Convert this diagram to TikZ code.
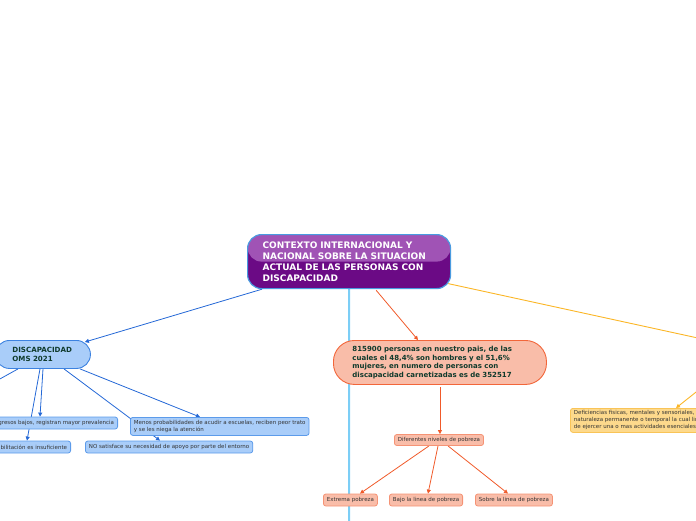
\documentclass[tikz,border=0pt]{standalone}
\usepackage{fontspec}
\setmainfont{DejaVu Sans}
\usetikzlibrary{arrows.meta,backgrounds,calc}
\definecolor{purpD}{HTML}{6B0A85}
\definecolor{purpL}{HTML}{A053B5}
\definecolor{cborder}{HTML}{4A9BE0}
\definecolor{blueF}{HTML}{A9CDF9}
\definecolor{blueB}{HTML}{3C82E0}
\definecolor{blueB2}{HTML}{5C9BEA}
\definecolor{blueL}{HTML}{2468D6}
\definecolor{salF}{HTML}{F9BDA9}
\definecolor{salB}{HTML}{F2663A}
\definecolor{salL}{HTML}{F05A2A}
\definecolor{salB2}{HTML}{F59375}
\definecolor{yelF}{HTML}{FDD98C}
\definecolor{yelB}{HTML}{F9C457}
\definecolor{yelL}{HTML}{FBB626}
\definecolor{skyL}{HTML}{7CCEF6}
\definecolor{dgreen}{HTML}{0F3A2C}
\definecolor{txt}{HTML}{333333}
\tikzset{
  central/.style={draw=cborder, line width=1.2pt, fill=purpD, rounded corners=14pt,
    text=white, font=\fontsize{9}{11}\selectfont\bfseries, align=left,
    text width=173pt, inner xsep=15pt, inner ysep=0pt, minimum height=54pt, anchor=north west,
    path picture={\fill[purpL] (path picture bounding box.north west) rectangle (path picture bounding box.east);}},
  pillblue/.style={draw=blueB, line width=0.9pt, fill=blueF, rounded corners=14pt,
    text=dgreen, font=\fontsize{7.1}{8.6}\selectfont\bfseries, align=left,
    text width=61pt, inner xsep=17pt, inner ysep=0pt, minimum height=28pt, anchor=north west},
  pillsal/.style={draw=salB, line width=0.9pt, fill=salF, rounded corners=21pt,
    text=dgreen, font=\fontsize{7}{8.7}\selectfont\bfseries, align=left,
    text width=175pt, inner xsep=19pt, inner ysep=0pt, minimum height=44pt, anchor=north west},
  sbox/.style={line width=0.8pt, rounded corners=2.5pt, text=txt,
    font=\fontsize{5.5}{7}\selectfont, align=left, inner xsep=3.5pt, inner ysep=0pt, minimum height=12pt},
  bbox/.style={sbox, draw=blueB2, fill=blueF},
  rbox/.style={sbox, draw=salB2, fill=salF},
  ybox/.style={sbox, draw=yelB, fill=yelF},
  bl/.style={draw=blueL, line width=0.8pt},
  rl/.style={draw=salL, line width=0.8pt},
  yl/.style={draw=yelL, line width=0.9pt},
  arr/.style={-{Triangle[length=4pt,width=4pt]}},
}
\begin{document}
\begin{tikzpicture}[x=1pt,y=-1pt]
\useasboundingbox (0,0) rectangle (696,520);
\clip (0,0) rectangle (696,520);

\node[central] (central) at (247,234) {CONTEXTO INTERNACIONAL Y\\NACIONAL SOBRE LA SITUACION\\ACTUAL DE LAS PERSONAS CON\\DISCAPACIDAD};

\node[pillblue] (disc) at (-5,340) {DISCAPACIDAD\\OMS 2021};

\node[pillsal] (sal) at (333,340) {815900 personas en nuestro pais, de las\\cuales el 48,4\% son hombres y el 51,6\%\\mujeres, en numero de personas con\\discapacidad carnetizadas es de 352517};

\node[bbox, anchor=east] (ingr) at (118,423) {ingresos bajos, registran mayor prevalencia};
\node[bbox, anchor=east] (rehab) at (71,447) {rehabilitación es insuficiente};
\node[bbox, anchor=west] (nosat) at (85,447) {NO satisface su necesidad de apoyo por parte del entorno};
\node[bbox, anchor=north west, minimum height=18pt] (menos) at (130,417) {Menos probabilidades de acudir a escuelas, reciben peor trato\\y se les niega la atención};

\node[rbox, anchor=west, minimum height=11pt] (dif) at (394,440) {Diferentes niveles de pobreza};
\node[rbox, anchor=west] (ext) at (323,500) {Extrema pobreza};
\node[rbox, anchor=west] (bajo) at (389,500) {Bajo la linea de pobreza};
\node[rbox, anchor=west] (sobre) at (475,500) {Sobre la linea de pobreza};

\node[ybox, anchor=north west, minimum height=24pt] (yel) at (570,408) {Deficiencias fisicas, mentales y sensoriales, de\\naturaleza permanente o temporal la cual limita la capacidad\\de ejercer una o mas actividades esenciales de la vida diaria};

\coordinate (offB) at (349,540);
\coordinate (offL) at (-20,390);
\coordinate (offR) at (730,345);
\coordinate (offY) at (715,377);

\begin{pgfonlayer}{background}
\draw[skyL, line width=2pt] (central.south) -- (offB);
\draw[bl, arr] (262,0 |- central.south) -- ($(disc.north east)+(-6,2)$);
\draw[rl, arr] ($(central.south)+(27,1)$) -- (418,0 |- sal.north);
\draw[yl] ($(central.east)+(-3,22)$) -- (offR);
\draw[bl] (18,0 |- disc.south) -- (offL);
\draw[bl, arr] (40,0 |- disc.south) -- (27,0 |- rehab.north);
\draw[bl, arr] (43,0 |- disc.south) -- (40,0 |- ingr.north);
\draw[bl, arr] (64,0 |- disc.south) -- (160,0 |- nosat.north);
\draw[bl, arr] (80,0 |- disc.south) -- (200,0 |- menos.north);
\draw[rl, arr] ($(sal.south)+(0,2)$) -- (sal.south |- dif.north);
\draw[rl, arr] (429,0 |- dif.south) -- (360,0 |- ext.north);
\draw[rl, arr] (438,0 |- dif.south) -- (428,0 |- bajo.north);
\draw[rl, arr] (448,0 |- dif.south) -- (508,0 |- sobre.north);
\draw[yl, arr] (offY) -- (676,0 |- yel.north);
\end{pgfonlayer}
\end{tikzpicture}
\end{document}
